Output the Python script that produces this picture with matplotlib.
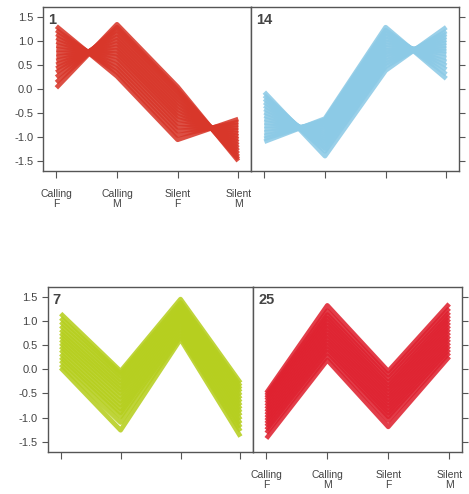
import matplotlib
matplotlib.use("Agg")
import matplotlib.pyplot as plt
import numpy as np

plt.rcParams['font.family'] = ['Liberation Sans', 'DejaVu Sans']

conditions = ["Calling\nF", "Calling\nM", "Silent\nF", "Silent\nM"]
yticks = [-1.5, -1.0, -0.5, 0.0, 0.5, 1.0, 1.5]

# one list per condition, each entry = one gene profile in the cluster
c1_calling_f = [1.30, 1.22, 1.14, 1.06, 0.98, 0.90, 0.82, 0.74, 0.66, 0.58, 0.50, 0.42, 0.34, 0.24, 0.13, 0.02]
c1_calling_m = [0.26, 0.34, 0.42, 0.50, 0.58, 0.66, 0.73, 0.80, 0.87, 0.94, 1.01, 1.08, 1.15, 1.22, 1.28, 1.34]
c1_silent_f = [-1.06, -0.97, -0.88, -0.80, -0.72, -0.64, -0.57, -0.50, -0.43, -0.36, -0.29, -0.22, -0.15, -0.08, -0.02, 0.04]
c1_silent_m = [-0.63, -0.69, -0.75, -0.81, -0.87, -0.93, -0.99, -1.05, -1.11, -1.17, -1.23, -1.29, -1.35, -1.41, -1.46, -1.50]

c14_calling_f = [-0.07, -0.14, -0.21, -0.28, -0.35, -0.42, -0.49, -0.56, -0.63, -0.70, -0.77, -0.84, -0.91, -0.98, -1.04, -1.10]
c14_calling_m = [-1.40, -1.30, -1.24, -1.18, -1.12, -1.07, -1.02, -0.97, -0.92, -0.87, -0.82, -0.77, -0.73, -0.69, -0.65, -0.62]
c14_silent_f = [0.38, 0.46, 0.52, 0.58, 0.64, 0.70, 0.75, 0.80, 0.86, 0.92, 0.98, 1.04, 1.10, 1.16, 1.22, 1.28]
c14_silent_m = [1.28, 1.20, 1.14, 1.08, 1.02, 0.96, 0.90, 0.84, 0.78, 0.72, 0.64, 0.56, 0.48, 0.40, 0.30, 0.21]

c7_calling_f = [0.03, 0.10, 0.18, 0.25, 0.32, 0.40, 0.47, 0.54, 0.61, 0.68, 0.75, 0.82, 0.90, 0.98, 1.06, 1.15]
c7_calling_m = [-1.26, -1.10, -0.98, -0.90, -0.82, -0.74, -0.66, -0.58, -0.50, -0.43, -0.36, -0.29, -0.22, -0.15, -0.09, -0.04]
c7_silent_f = [0.62, 0.68, 0.74, 0.80, 0.86, 0.92, 0.97, 1.02, 1.07, 1.12, 1.17, 1.22, 1.27, 1.32, 1.38, 1.45]
c7_silent_m = [-1.39, -1.28, -1.20, -1.12, -1.04, -0.96, -0.89, -0.82, -0.75, -0.68, -0.61, -0.54, -0.47, -0.41, -0.35, -0.28]

c25_calling_f = [-1.43, -1.32, -1.25, -1.18, -1.12, -1.06, -1.00, -0.94, -0.88, -0.82, -0.76, -0.70, -0.64, -0.59, -0.54, -0.49]
c25_calling_m = [0.19, 0.28, 0.36, 0.43, 0.50, 0.57, 0.64, 0.71, 0.78, 0.85, 0.92, 0.99, 1.06, 1.13, 1.21, 1.32]
c25_silent_f = [-1.19, -1.06, -0.98, -0.91, -0.84, -0.77, -0.70, -0.63, -0.56, -0.49, -0.42, -0.35, -0.28, -0.20, -0.12, -0.04]
c25_silent_m = [0.26, 0.34, 0.41, 0.48, 0.55, 0.62, 0.69, 0.76, 0.83, 0.90, 0.97, 1.04, 1.11, 1.18, 1.26, 1.35]

clusters = [
    ("1", "#d8372a", [c1_calling_f, c1_calling_m, c1_silent_f, c1_silent_m]),
    ("14", "#8ccae6", [c14_calling_f, c14_calling_m, c14_silent_f, c14_silent_m]),
    ("7", "#b6cf1f", [c7_calling_f, c7_calling_m, c7_silent_f, c7_silent_m]),
    ("25", "#df2230", [c25_calling_f, c25_calling_m, c25_silent_f, c25_silent_m]),
]

# panel positions in figure fractions (left, bottom, width, height)
positions = [
    [0.0917, 0.6538, 0.4435, 0.3320],
    [0.5352, 0.6538, 0.4435, 0.3320],
    [0.1013, 0.0850, 0.4382, 0.3340],
    [0.5394, 0.0850, 0.4456, 0.3340],
]

fig = plt.figure(figsize=(4.69, 4.94), dpi=100)
grey = "#555555"

for i, ((name, color, cols), pos) in enumerate(zip(clusters, positions)):
    ax = fig.add_axes(pos)
    x = np.arange(len(conditions))
    ax.plot(x, np.array(cols), color=color, lw=3.4, alpha=0.88,
            solid_joinstyle='round', solid_capstyle='butt')
    ax.set_xlim(-0.22, 3.21)
    ax.set_ylim(-1.71, 1.70)
    ax.set_xticks(x)
    ax.set_yticks(yticks)
    left = i % 2 == 0
    show_xlab = i in (0, 3)
    ax.set_xticklabels(conditions if show_xlab else [""] * 4, fontsize=7.5,
                       color="#444444", linespacing=0.95)
    ax.set_yticklabels(["%.1f" % v for v in yticks], fontsize=8, color="#444444")
    ax.tick_params(axis='x', direction='out', length=5, width=0.8, color=grey, pad=8)
    ax.tick_params(axis='y', direction='out', length=4.5, width=0.8, color=grey, pad=2.5)
    if not left:
        ax.yaxis.tick_right()
        ax.tick_params(axis='y', labelright=False)
    for s in ax.spines.values():
        s.set_color(grey)
        s.set_linewidth(1.0)
    ax.text(0.025, 0.965, name, transform=ax.transAxes, ha='left', va='top',
            fontsize=10.5, fontweight='bold', color="#444444")

fig.savefig("out.png", dpi=100)
